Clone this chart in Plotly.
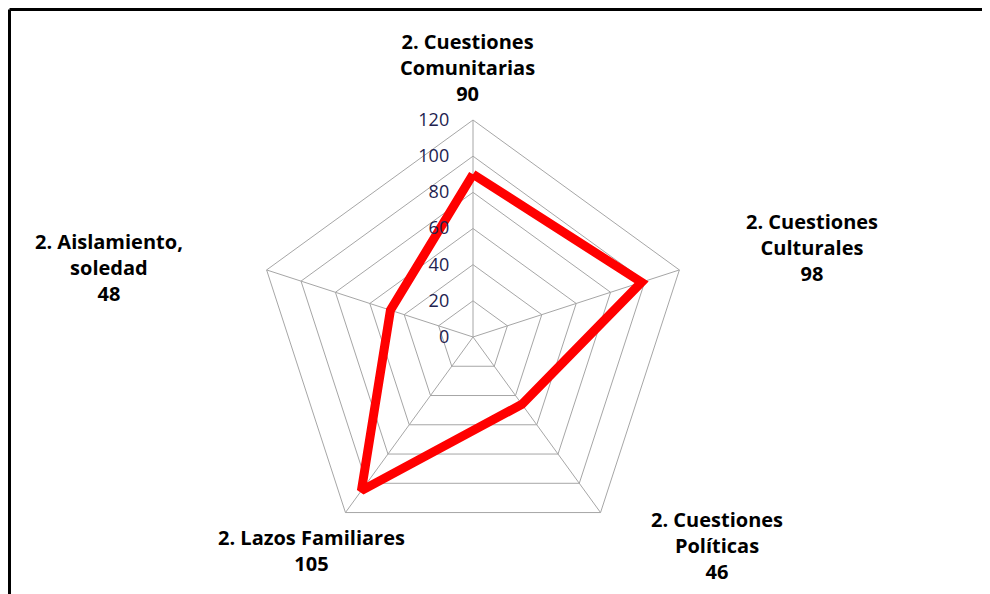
import plotly.graph_objects as go

# ---- data ----
categories = ["2. Cuestiones Comunitarias", "2. Cuestiones Culturales",
              "2. Cuestiones Políticas", "2. Lazos Familiares",
              "2. Aislamiento, soledad"]
label_lines = ["2. Cuestiones<br>Comunitarias", "2. Cuestiones<br>Culturales",
               "2. Cuestiones<br>Políticas", "2. Lazos Familiares",
               "2. Aislamiento,<br>soledad"]
values = [90, 98, 46, 105, 48]
radial_ticks = [0, 20, 40, 60, 80, 100, 120]

W, H = 990, 594
OFF = 8  # page body margin offset
cx, cy, R = 473 - OFF, 337 - OFF, 217

# label centres in pixels (layout only)
label_pos = [(467, 68), (812, 248), (717, 545), (311, 550), (109, 267)]

fig = go.Figure()
fig.add_trace(go.Scatterpolar(
    r=values + values[:1],
    theta=categories + categories[:1],
    mode="lines",
    line=dict(color="#FF0000", width=9),
    showlegend=False,
    hoverinfo="skip",
))

grid = "#A6A6A6"
fig.update_layout(
    width=W, height=H,
    paper_bgcolor="white", plot_bgcolor="white",
    margin=dict(l=0, r=0, t=0, b=0),
    showlegend=False,
    polar=dict(
        domain=dict(x=[(cx - R) / W, (cx + R) / W],
                    y=[(H - cy - R) / H, (H - cy + R) / H]),
        gridshape="linear",
        bgcolor="white",
        angularaxis=dict(
            rotation=90, direction="clockwise",
            showticklabels=False, ticks="",
            showline=True, linecolor=grid, linewidth=1,
            gridcolor=grid, gridwidth=1,
        ),
        radialaxis=dict(
            range=[0, 120], tickvals=radial_ticks,
            ticktext=[str(v) for v in radial_ticks],
            angle=90, tickangle=90, side="counterclockwise",
            showline=False, gridcolor=grid, gridwidth=1,
            ticks="outside", ticklen=17, tickcolor="rgba(0,0,0,0)",
            tickfont=dict(family="Open Sans", size=18, color="#22224F"),
        ),
    ),
)

for (px, py), lab, v in zip(label_pos, label_lines, values):
    fig.add_annotation(
        x=(px - OFF) / W, y=1 - (py - OFF) / H, xref="paper", yref="paper",
        xanchor="center", yanchor="middle", showarrow=False,
        text=f"<b>{lab}<br>{v}</b>", align="center",
        font=dict(family="Open Sans", size=20, color="#000000"),
    )

# frame lines at top and left
fig.add_shape(type="line", xref="paper", yref="paper",
              x0=1.5 / W, x1=1, y0=1 - 1.5 / H, y1=1 - 1.5 / H,
              line=dict(color="black", width=3))
fig.add_shape(type="line", xref="paper", yref="paper",
              x0=1.5 / W, x1=1.5 / W, y0=1 - 1.5 / H, y1=0,
              line=dict(color="black", width=3))

fig.write_html("out.html")
